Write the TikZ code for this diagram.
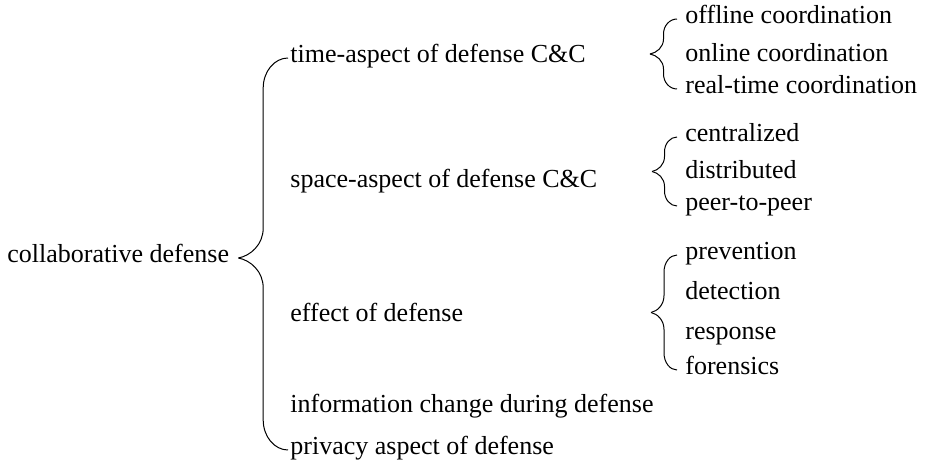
\documentclass[tikz,border=0pt]{standalone}
\usepackage{fontspec}
\setmainfont{Liberation Serif}
\usetikzlibrary{calc}

\begin{document}
\begin{tikzpicture}[
  x=0.5pt, y=-0.5pt,
  every node/.style={font=\fontsize{13}{15}\selectfont, anchor=west, text height=1.25ex, text depth=.25ex, inner ysep=1pt},
  topic/.style={inner xsep=1pt},
  leaf/.style={inner xsep=4pt},
  halfbrace/.style={line width=0.5pt, to path={
    let \p1=(\tikztostart), \p2=(\tikztotarget.west),
        \n1={(\x1+\x2)/2}, \n2={#1*sign(\y2-\y1)}, \n3={(\x2-\x1)/2} in
    (\p1) .. controls (\x1+0.5*\n3,\y1+0.08*\n2) and (\n1,\y1+0.45*\n2) .. (\n1,\y1+\n2)
    -- (\n1,\y2-\n2)
    .. controls (\n1,\y2-0.45*\n2) and (\x2-0.55*\n3,\y2) .. (\p2)}}
]
  \useasboundingbox (0,0) rectangle (927,465);

  \node[inner xsep=4.5pt] (root) at (-2,258) {collaborative defense};
  \coordinate (roottip) at (root.east);

  \node[topic] (time) at (288,58) {time-aspect of defense C\&C};
  \node[topic] (space) at (288,183) {space-aspect of defense C\&C};
  \node[topic] (effect) at (288,317) {effect of defense};
  \node[topic] (info) at (288,408) {information change during defense};
  \node[topic] (privacy) at (288,450) {privacy aspect of defense};

  \node[leaf] (offline) at (677,19) {offline coordination};
  \node[leaf] (online) at (677,57) {online coordination};
  \node[leaf] (realtime) at (677,89) {real-time coordination};
  \node[leaf] (central) at (677,137) {centralized};
  \node[leaf] (distrib) at (677,174) {distributed};
  \node[leaf] (p2p) at (677,206) {peer-to-peer};
  \node[leaf] (prevent) at (677,255) {prevention};
  \node[leaf] (detect) at (677,295) {detection};
  \node[leaf] (respond) at (677,335) {response};
  \node[leaf] (forensic) at (677,370) {forensics};

  \coordinate (timetip) at (650,54);
  \coordinate (spacetip) at (652,171.5);
  \coordinate (effecttip) at (651,312.5);

  \draw[halfbrace=15pt] (roottip) to (time);
  \draw[halfbrace=15pt] (roottip) to (privacy);
  \draw[halfbrace=7.5pt] (timetip) to (offline);
  \draw[halfbrace=7.5pt] (timetip) to (realtime);
  \draw[halfbrace=7.5pt] (spacetip) to (central);
  \draw[halfbrace=7.5pt] (spacetip) to (p2p);
  \draw[halfbrace=8.5pt] (effecttip) to (prevent);
  \draw[halfbrace=8.5pt] (effecttip) to (forensic);
\end{tikzpicture}
\end{document}
